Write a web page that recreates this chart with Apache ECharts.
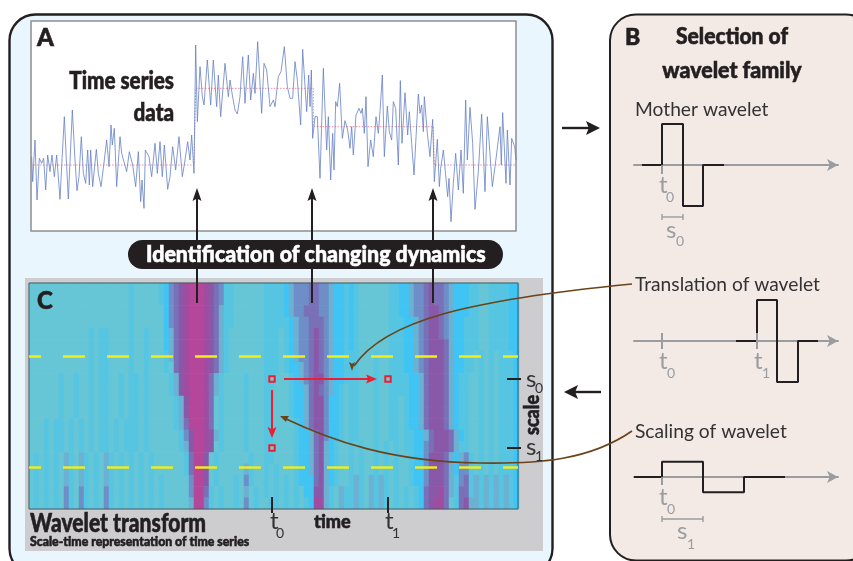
<!DOCTYPE html>
<html><head><meta charset="utf-8">
<style>html,body{margin:0;padding:0;background:#fff}#c{width:853px;height:561px}</style>
<script src="https://cdn.jsdelivr.net/npm/echarts@6/dist/echarts.min.js"></script></head>
<body><div id="c"></div>
<script>
const tsTime=[2,5,12,18,25,32,38,44,50,57,63,70,77,87,93,100,107,112,124,132,138,144,151,157,164,170,175,179,185,196,202,210,217,227,234,240,244,250,257,267,272,287,295,305,314,322,329,333,339,343,354,362,372,379,387,394,400,410,417,425,434,444,454,462,470,477,482,489,494,499,507,514,519,529,539,547,557,562,569,582,592,597,604,612,619,627,635,642,652,659,667,672,680,692,699,707,717,727,732,742,750,760,769,777,785,792,799,809,815,827,833,837,841,845,852,859,867,877,887,892,899,905,909,914,919,926,934,942,950,957,962,967,975,984,990,994,1000,1005,1011,1019,1027,1035,1042,1047,1054,1060,1069,1075,1082,1087,1094,1102,1108,1113,1122,1130,1135,1142,1149,1162,1167,1172,1177,1180,1189,1197,1205,1210,1219,1225,1229,1237,1242,1250,1254,1260,1267,1274,1282,1290,1297,1304,1309,1317,1325,1332,1342,1352,1362,1369,1384,1392,1407,1411,1415,1425,1429,1437,1442,1451,1455];
const tsValue=[223,148,273,93,218,203,218,123,228,178,228,163,228,95,213,343,193,96,363,213,121,163,283,173,143,243,138,243,133,245,173,133,188,273,193,318,258,308,133,283,233,178,238,198,133,238,88,153,68,243,223,163,263,173,268,163,258,125,163,253,183,283,163,213,268,213,288,173,558,328,493,403,378,513,378,513,373,468,343,503,403,453,408,363,351,403,523,383,528,393,473,413,568,353,503,483,373,393,373,463,478,553,433,398,398,508,453,318,545,358,468,373,483,278,343,343,158,488,243,343,153,293,183,388,373,443,278,331,303,248,313,228,348,368,353,368,293,403,193,273,223,343,293,358,468,223,375,298,273,388,368,198,451,263,415,288,358,263,168,411,353,378,298,403,293,223,335,148,275,133,188,243,238,103,158,28,143,233,123,243,113,393,213,371,263,65,178,351,118,343,133,193,313,198,355,143,303,138,278,253,213];
const levelTime=[0,489,494,847,847,1207,1210,1455];
const levelValue=[198,198,428,428,313,313,198,198];

// wavelet transform magnitude, digit per cell, cut by time blocks
const heatA=["3333333333333333333323333","3333333333333333333323333","3333333333333333333323333","3333333333333333333323333","3333333333332322333323323","3333333333332322333323323","3333333333332322333323323","3333333333332322333323323","3333332332332322332322323","3333332332332322332322323","3333332332332322332322323","3333332332332322332322323","3332322323232322323222323","3332322323232322323222323","3332322323232322323222323","3232323423423234232323232","3232323423423234232323232","3232323423423234232323232","3232323523523235232323232","3232323523523235232323232"];
const heatB=["321567899987652233","321567899987652233","331567899987642233","331567899987642233","331467899987642333","331467899987642333","332467899987642333","332367899987642333","333247899986423333","333247899986423333","333324799986323333","333324799986323333","333324699986323333","333332579987423333","333332479987323333","333333269973233333","333333269973233333","323333359973233323","323333359962323323","323333349952323323"];
const heatC=["3333222","3333222","3333222","3333222","3333222","3333222","3333222","3333222","2333223","2333223","2333223","2333223","2333223","2333223","2333223","3233223","4233232","5233232","4323232","5323322"];
const heatD=["21455566554112","21455566554112","21455666554112","22145566654112","32145567654112","32145567654112","32145567654112","32114567654112","33214567754112","33211467654123","33211467751123","33211467751123","33321467751123","33321146751123","33321146741233","33321146741233","33321146741233","32321116741233","32323117742342","32323218842342"];
const heatE=["1233333322","1233333322","1233333322","1233333322","1233333322","1233333322","2233323322","2233323322","2233323322","2233323322","2233323322","2233323322","2233323322","2233323322","2323323232","2323323232","2323323232","2423424232","2423424232","2423424232"];
const heatF=["114556766541112","114556766541112","114556776541112","211456776541122","211456776541122","211456777641122","211456777641122","211456777641122","221146777641223","221146777641223","321146777641223","321146777641223","321146777641223","322114677764123","322115677764223","332115777641452","332115777641552","332115777642562","323216778642662","323216788632674"];
const heatG=["233222211","233222211","233222211","233222211","233222211","233222211","323232221","323232221","323232221","323232221","323232221","323232221","323232221","323232221","323232221","323232221","323232221","424242421","424242421","424242421"];
const heatColors=['#40c4f4','#56c5e2','#66c6d6','#6cb0d2','#6e8ec8','#7a70b8','#8a58a8','#a04ca0','#b5479a'];

const motherX=[8,28,28,49,49,69,69,90], motherY=[0,0,1,1,-1,-1,0,0];
const translatedX=[102,123,123,143,143,164,164,184], translatedY=[0,0,1,1,-1,-1,0,0];
const scaledX=[0,28,28,69,69,110,110,151], scaledY=[0,0,0.37,0.37,-0.37,-0.37,0,0];

const zip=(a,b)=>a.map((v,i)=>[v,b[i]]);
const rows=heatA.map((_,r)=>heatA[r]+heatB[r]+heatC[r]+heatD[r]+heatE[r]+heatF[r]+heatG[r]);
const heatData=[];
rows.forEach((s,r)=>{for(let c=0;c<s.length;c++)heatData.push([c,r,+s[c]]);});
const cols=Array.from(rows[0],(_,i)=>i), rowIdx=rows.map((_,i)=>i);

const DARK='#231f20', GREY='#9a9c9f', RED='#ea1f33', BROWN='#6a4318';
const SANS='Lato, "Open Sans", sans-serif';
function txt(t,x,y,size,weight,fill,sx,align,rot){
  const style={text:t,x:0,y:0,fill,font:weight+' '+size+'px '+SANS,textAlign:align||'left',textVerticalAlign:'middle'};
  if(weight==='900'){style.stroke=fill;style.lineWidth=0.6;}
  return {type:'text',x,y,scaleX:sx||1,rotation:rot||0,z:20,silent:true,style};
}
function ln(x1,y1,x2,y2,c,w,z,dash,off){
  return {type:'line',z:z||12,silent:true,shape:{x1,y1,x2,y2},style:{stroke:c,lineWidth:w,lineDash:dash,lineDashOffset:off||0}};
}
function head(x,y,dir,len,hw,c){ // tip at x,y
  const p={u:[[x,y],[x-hw,y+len],[x,y+len*0.8],[x+hw,y+len]],d:[[x,y],[x-hw,y-len],[x,y-len*0.8],[x+hw,y-len]],
           r:[[x,y],[x-len,y-hw],[x-len*0.8,y],[x-len,y+hw]],l:[[x,y],[x+len,y-hw],[x+len*0.8,y],[x+len,y+hw]]}[dir];
  return {type:'polygon',z:13,silent:true,shape:{points:p},style:{fill:c}};
}
function square(x,y){return {type:'rect',z:14,silent:true,shape:{x:x-2.7,y:y-2.7,width:5.4,height:5.4},style:{fill:'#7fc7d6',stroke:RED,lineWidth:2}};}
function curve(x1,y1,cpx1,cpy1,cpx2,cpy2,x2,y2){return {type:'bezierCurve',z:13,silent:true,shape:{x1,y1,cpx1,cpy1,cpx2,cpy2,x2,y2},style:{fill:'none',stroke:BROWN,lineWidth:1.6}};}

const graphics=[
 {type:'rect',z:0,silent:true,shape:{x:9.5,y:14.5,width:543,height:560,r:26},style:{fill:'#e9f6fe',stroke:DARK,lineWidth:2.4}},
 {type:'rect',z:0,silent:true,shape:{x:610,y:14.5,width:262,height:546,r:26},style:{fill:'#f3eae6',stroke:DARK,lineWidth:2}},
 {type:'rect',z:1,silent:true,shape:{x:31,y:21,width:485,height:210},style:{fill:'#fff',stroke:'#8f8f8f',lineWidth:1.5}},
 {type:'rect',z:1,silent:true,shape:{x:25,y:278,width:518,height:273},style:{fill:'#cdcdcf'}},
 {type:'rect',z:11,silent:true,shape:{x:29,y:283,width:489,height:226},style:{fill:'none',stroke:'#4a5a60',lineWidth:1}},
 // arrows from the transform to the series
 ln(197,198,197,303,DARK,2),ln(312,198,312,303,DARK,2),ln(433,198,433,303,DARK,2),
 head(197,188,'u',13,4.5,DARK),head(312,188,'u',13,4.5,DARK),head(433,188,'u',13,4.5,DARK),
 {type:'rect',z:15,silent:true,shape:{x:128,y:240,width:375,height:29,r:14.5},style:{fill:'#231f20'}},
 txt('Identification of changing dynamics',146,255,23,'900','#fff',0.93),
 // scale lines
 ln(29,356.5,518,356.5,'#f4ee16',2.4,12,[22,22],10),
 ln(29,467.5,518,467.5,'#f4ee16',2.4,12,[22,22],10),
 // translation and scaling marks
 square(272,379),square(388,379),square(272,448),
 ln(284,379,370,379,RED,2),head(377,379,'r',11,4.5,RED),
 ln(272,390,272,432,RED,2),head(272,438,'d',11,4.5,RED),
 curve(632,284,470,300,385,320,354,366),head(352,371,'d',9,3,BROWN),
 curve(632,431,590,460,540,464,480,463),curve(480,463,390,462,330,440,284,418),
 {type:'polygon',z:13,silent:true,shape:{points:[[280,416],[289,416],[287,419],[286,422]]},style:{fill:BROWN}},
 // ticks
 ln(272,497,272,513,DARK,2),ln(388,497,388,513,DARK,2),
 ln(507,379,521,379,DARK,2),ln(507,448,521,448,DARK,2),
 // panel arrows
 ln(562,128,592,128,DARK,2.4),head(600,128,'r',14,7,DARK),
 ln(572,392,601,392,DARK,2.4),head(564,392,'l',14,7,DARK),
 // wavelet ticks and brackets
 ln(662,165,662,174,GREY,2),
 ln(662,333,662,349,GREY,2),ln(757,333,757,349,GREY,2),
 ln(662,477,662,485,GREY,2),
 ln(662,217,683,217,GREY,1.4),ln(662,214,662,220,GREY,1.4),ln(683,214,683,220,GREY,1.4),
 ln(662,519,703,519,GREY,1.4),ln(662,516,662,522,GREY,1.4),ln(703,516,703,522,GREY,1.4),
 // labels
 txt('A',37,38,24,'900',DARK),
 txt('Time series',174,81,24,'900',DARK,0.86,'right'),
 txt('data',174,113,24,'900',DARK,0.86,'right'),
 txt('C',37,301,24,'900',DARK),
 txt('Wavelet transform',30,524,26,'900',DARK,0.81),
 txt('Scale-time representation of time series',30,542,13.5,'900',DARK,0.91),
 txt('t',270,521,24,'400','#333'),txt('0',276,533,14,'400','#333'),
 txt('time',314,522,19,'900',DARK,0.95),
 txt('t',385,521,24,'400','#333'),txt('1',392,533,14,'400','#333'),
 txt('s',526,379,24,'400','#333'),txt('0',535,388,14,'400','#333'),
 txt('s',526,447,24,'400','#333'),txt('1',535,456,14,'400','#333'),
 txt('scale',533,415,20,'900',DARK,0.9,'center',Math.PI/2),
 txt('B',625,38,23,'900',DARK),
 txt('Selection of',732,37,23,'900',DARK,0.915,'center'),
 txt('wavelet family',732,71,23,'900',DARK,0.93,'center'),
 txt('Mother wavelet',635,110,19.5,'400','#333',0.985),
 txt('t',659,185,24,'400',GREY),txt('0',666,197,14,'400',GREY),
 txt('s',666,230,24,'400',GREY),txt('0',676,241,14,'400',GREY),
 txt('Translation of wavelet',635,285,19.5,'400','#333',0.985),
 txt('t',659,361,24,'400',GREY),txt('0',667,373,14,'400',GREY),
 txt('t',754,361,24,'400',GREY),txt('1',762,373,14,'400',GREY),
 txt('Scaling of wavelet',635,432,19.5,'400','#333',0.985),
 txt('t',659,497,24,'400',GREY),txt('0',667,509,14,'400',GREY),
 txt('s',677,531,24,'400',GREY),txt('1',687,544,14,'400',GREY)
];

const off={show:false};
function waveAxisX(i){return {type:'value',gridIndex:i,min:0,max:204,splitLine:off,axisTick:off,axisLabel:off,
  axisLine:{show:true,onZero:true,symbol:['none','arrow'],symbolSize:[9,11],lineStyle:{color:GREY,width:2}}};}
function waveAxisY(i){return {type:'value',gridIndex:i,min:-1,max:1,show:false,splitLine:off};}
function wave(i,xs,ys){return {type:'line',xAxisIndex:i,yAxisIndex:i,data:zip(xs,ys),showSymbol:false,silent:true,z:5,
  lineStyle:{color:DARK,width:2},emphasis:{disabled:true}};}

const chart=echarts.init(document.getElementById('c'),null,{renderer:'canvas'});
chart.setOption({
  animation:false,backgroundColor:'#fff',tooltip:{show:false},
  grid:[
    {left:31,top:21,width:485,height:210},
    {left:29,top:283,width:490,height:226},
    {left:634,top:124,width:204,height:82},
    {left:634,top:300,width:204,height:82},
    {left:634,top:436,width:204,height:82}
  ],
  xAxis:[
    {type:'value',gridIndex:0,min:0,max:1455,show:false,splitLine:off},
    {type:'category',gridIndex:1,data:cols,show:false,splitArea:off},
    waveAxisX(2),waveAxisX(3),waveAxisX(4)
  ],
  yAxis:[
    {type:'value',gridIndex:0,min:0,max:630,show:false,splitLine:off},
    {type:'category',gridIndex:1,data:rowIdx,inverse:true,show:false,splitArea:off},
    waveAxisY(2),waveAxisY(3),waveAxisY(4)
  ],
  visualMap:[{type:'continuous',show:false,seriesIndex:2,min:1,max:9,inRange:{color:heatColors}}],
  series:[
    {type:'line',xAxisIndex:0,yAxisIndex:0,data:zip(levelTime,levelValue),showSymbol:false,silent:true,
      lineStyle:{color:'#ee7f90',width:0.9,type:[1.5,1.5]},emphasis:{disabled:true}},
    {type:'line',xAxisIndex:0,yAxisIndex:0,data:zip(tsTime,tsValue),showSymbol:false,silent:true,
      lineStyle:{color:'#6480c4',width:0.8},emphasis:{disabled:true}},
    {type:'heatmap',xAxisIndex:1,yAxisIndex:1,data:heatData,silent:true,progressive:0,emphasis:{disabled:true},
      itemStyle:{borderWidth:0}},
    wave(2,motherX,motherY),wave(3,translatedX,translatedY),wave(4,scaledX,scaledY)
  ],
  graphic:graphics
});
</script></body></html>
